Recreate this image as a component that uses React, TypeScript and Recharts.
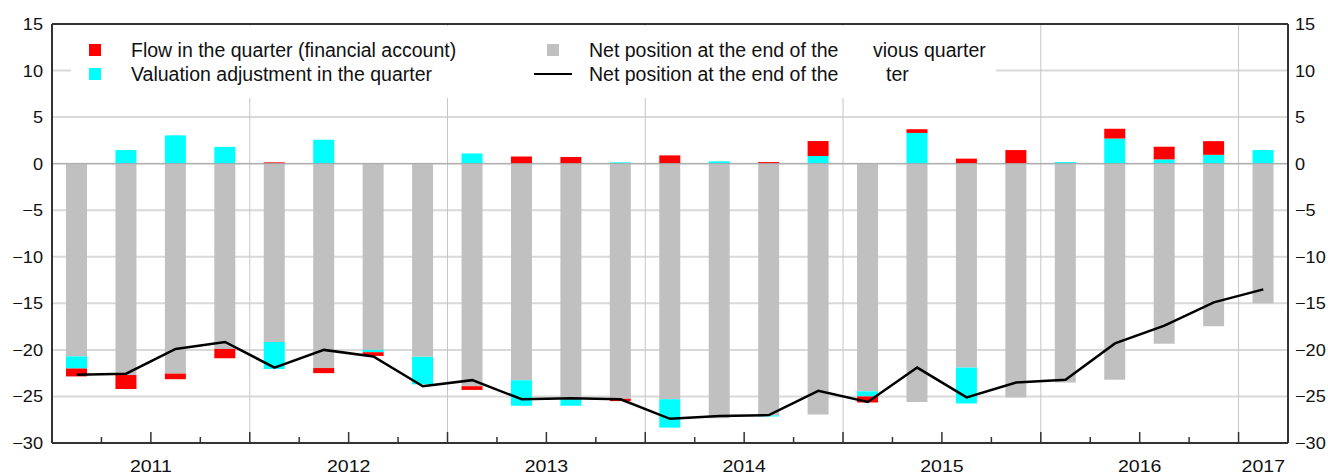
import React from 'react';
import {
  ComposedChart,
  Bar,
  Line,
  XAxis,
  YAxis,
  CartesianGrid,
  ReferenceLine,
  Legend,
} from 'recharts';

const quarters = [
  '2011Q1', '2011Q2', '2011Q3', '2011Q4',
  '2012Q1', '2012Q2', '2012Q3', '2012Q4',
  '2013Q1', '2013Q2', '2013Q3', '2013Q4',
  '2014Q1', '2014Q2', '2014Q3', '2014Q4',
  '2015Q1', '2015Q2', '2015Q3', '2015Q4',
  '2016Q1', '2016Q2', '2016Q3', '2016Q4',
  '2017Q1',
];

// net position at the end of the previous quarter (grey)
const prevPosition = [
  -20.7, -22.7, -22.55, -19.9, -19.15, -21.95, -20.0, -20.75, -23.9, -23.25, -25.3, -25.25,
  -25.3, -27.35, -27.05, -26.95, -24.45, -25.6, -21.9, -25.1, -23.5, -23.2, -19.35, -17.45, -15.0,
];

// valuation adjustment in the quarter (cyan)
const valuation = [
  -1.3, 1.46, 3.04, 1.8, -2.9, 2.57, -0.25, -2.95, 1.1, -2.75, -0.7, 0.14,
  -3.05, 0.25, -0.1, 0.82, -0.55, 3.3, -3.85, 0, 0.17, 2.7, 0.46, 0.95, 1.46,
];

// flow in the quarter, financial account (red)
const flow = [
  -0.85, -1.5, -0.6, -1.0, 0.14, -0.55, -0.4, 0, -0.4, 0.78, 0.72, -0.25,
  0.89, 0, 0.17, 1.61, -0.65, 0.4, 0.54, 1.46, 0, 1.05, 1.36, 1.47, 0,
];

// net position at the end of the quarter (black line)
const netPosition = [
  -22.66, -22.56, -19.9, -19.15, -21.9, -20.0, -20.7, -23.9, -23.25, -25.3, -25.2, -25.3,
  -27.4, -27.1, -27.0, -24.4, -25.6, -21.9, -25.1, -23.5, -23.2, -19.3, -17.4, -14.9, -13.5,
];

const yTicks = [-30, -25, -20, -15, -10, -5, 0, 5, 10, 15];

const data = quarters.map((q, i) => ({
  q,
  prev: prevPosition[i],
  val: valuation[i],
  flow: flow[i],
  net: netPosition[i],
}));

const W = 1328;
const H = 476;
const LEFT_W = 52;
const RIGHT_W = 40;
const TOP = 24;
const X_H = 33;
const AXIS_Y = H - X_H;
const BAND = (W - LEFT_W - RIGHT_W) / quarters.length;
const FONT = '"Liberation Sans", Arial, sans-serif';

const fmt = (v: number) => (v < 0 ? '\u2212' + Math.abs(v) : String(v));

const QuarterTick = (props: any) => {
  const { x, payload } = props;
  const i: number = payload.index;
  const half = payload.offset || BAND / 2;
  const left = x - half;
  const year = String(payload.value).slice(0, 4);
  const label = (cx: number) => (
    <text
      transform={`translate(${cx} ${AXIS_Y + 29}) scale(1.15 1)`}
      textAnchor="middle"
      fontSize={17}
      fill="#111"
      fontFamily={FONT}
    >
      {year}
    </text>
  );
  return (
    <g>
      {i > 0 && (
        <line
          x1={left}
          x2={left}
          y1={AXIS_Y}
          y2={AXIS_Y - (i % 2 === 0 ? 11 : 6)}
          stroke="#333"
          strokeWidth={1.5}
        />
      )}
      {i % 4 === 2 && label(left)}
      {i === quarters.length - 1 && label(x)}
    </g>
  );
};

const LeftTick = (props: any) => (
  <text
    transform={`translate(43 ${props.y + 6}) scale(1.1 1)`}
    textAnchor="end"
    fontSize={16.5}
    fill="#111"
    fontFamily={FONT}
  >
    {fmt(props.payload.value)}
  </text>
);

const RightTick = (props: any) => (
  <text
    transform={`translate(${W - RIGHT_W + 7} ${props.y + 6}) scale(1.1 1)`}
    textAnchor="start"
    fontSize={16.5}
    fill="#111"
    fontFamily={FONT}
  >
    {fmt(props.payload.value)}
  </text>
);

const LegendBox = () => (
  <svg width={925} height={72} style={{ display: 'block' }}>
    <g fontFamily={FONT} fontSize={19.5} fill="#111">
      <rect x={18} y={18} width={12} height={12} fill="#ff0000" />
      <text x={60} y={31}>Flow in the quarter (financial account)</text>
      <rect x={18} y={42} width={12} height={12} fill="#00ffff" />
      <text x={60} y={55}>Valuation adjustment in the quarter</text>
      <rect x={476} y={18} width={12} height={12} fill="#c0c0c0" />
      <text x={518} y={31}>Net position at the end of the</text>
      <text x={802} y={31}>vious quarter</text>
      <line x1={463} x2={501} y1={48} y2={48} stroke="#000" strokeWidth={2} />
      <text x={518} y={55}>Net position at the end of the</text>
      <text x={815} y={55}>ter</text>
    </g>
  </svg>
);

export default function App() {
  return (
    <div style={{ position: 'absolute', left: 0, top: 0, width: W, height: H, background: '#fff' }}>
      <ComposedChart
        width={W}
        height={H}
        data={data}
        stackOffset="sign"
        margin={{ top: TOP, right: 0, bottom: 0, left: 0 }}
      >
        <CartesianGrid yAxisId="left" vertical={false} stroke="#d9d9d9" strokeWidth={2} />
        <CartesianGrid
          yAxisId="left"
          horizontal={false}
          stroke="#c6c6c6"
          strokeWidth={1}
          verticalCoordinatesGenerator={({ offset }: any) =>
            [4, 8, 12, 16, 20, 24].map((k) => offset.left + (offset.width * k) / quarters.length)
          }
        />
        <XAxis
          dataKey="q"
          height={X_H}
          interval={0}
          tickLine={false}
          axisLine={{ stroke: '#333', strokeWidth: 2 }}
          tick={<QuarterTick />}
        />
        <YAxis
          yAxisId="left"
          width={LEFT_W}
          domain={[-30, 15]}
          ticks={yTicks}
          tickLine={false}
          axisLine={{ stroke: '#333', strokeWidth: 2 }}
          tick={<LeftTick />}
        />
        <YAxis
          yAxisId="right"
          orientation="right"
          width={RIGHT_W}
          domain={[-30, 15]}
          ticks={yTicks}
          tickLine={false}
          axisLine={{ stroke: '#333', strokeWidth: 2 }}
          tick={<RightTick />}
        />
        <ReferenceLine yAxisId="left" y={0} stroke="#a8a8a8" strokeWidth={1} />
        <Bar yAxisId="left" dataKey="prev" stackId="a" fill="#c0c0c0" barSize={21} isAnimationActive={false} />
        <Bar yAxisId="left" dataKey="val" stackId="a" fill="#00ffff" barSize={21} isAnimationActive={false} />
        <Bar yAxisId="left" dataKey="flow" stackId="a" fill="#ff0000" barSize={21} isAnimationActive={false} />
        <Line
          yAxisId="right"
          dataKey="net"
          stroke="#000"
          strokeWidth={2.5}
          dot={false}
          activeDot={false}
          isAnimationActive={false}
        />
        <ReferenceLine yAxisId="left" y={15} stroke="#333" strokeWidth={2} />
        <Legend
          layout="horizontal"
          verticalAlign="middle"
          align="center"
          content={<LegendBox />}
          wrapperStyle={{ left: 71, top: 26, width: 925, height: 72, background: '#fff' }}
        />
      </ComposedChart>
    </div>
  );
}
